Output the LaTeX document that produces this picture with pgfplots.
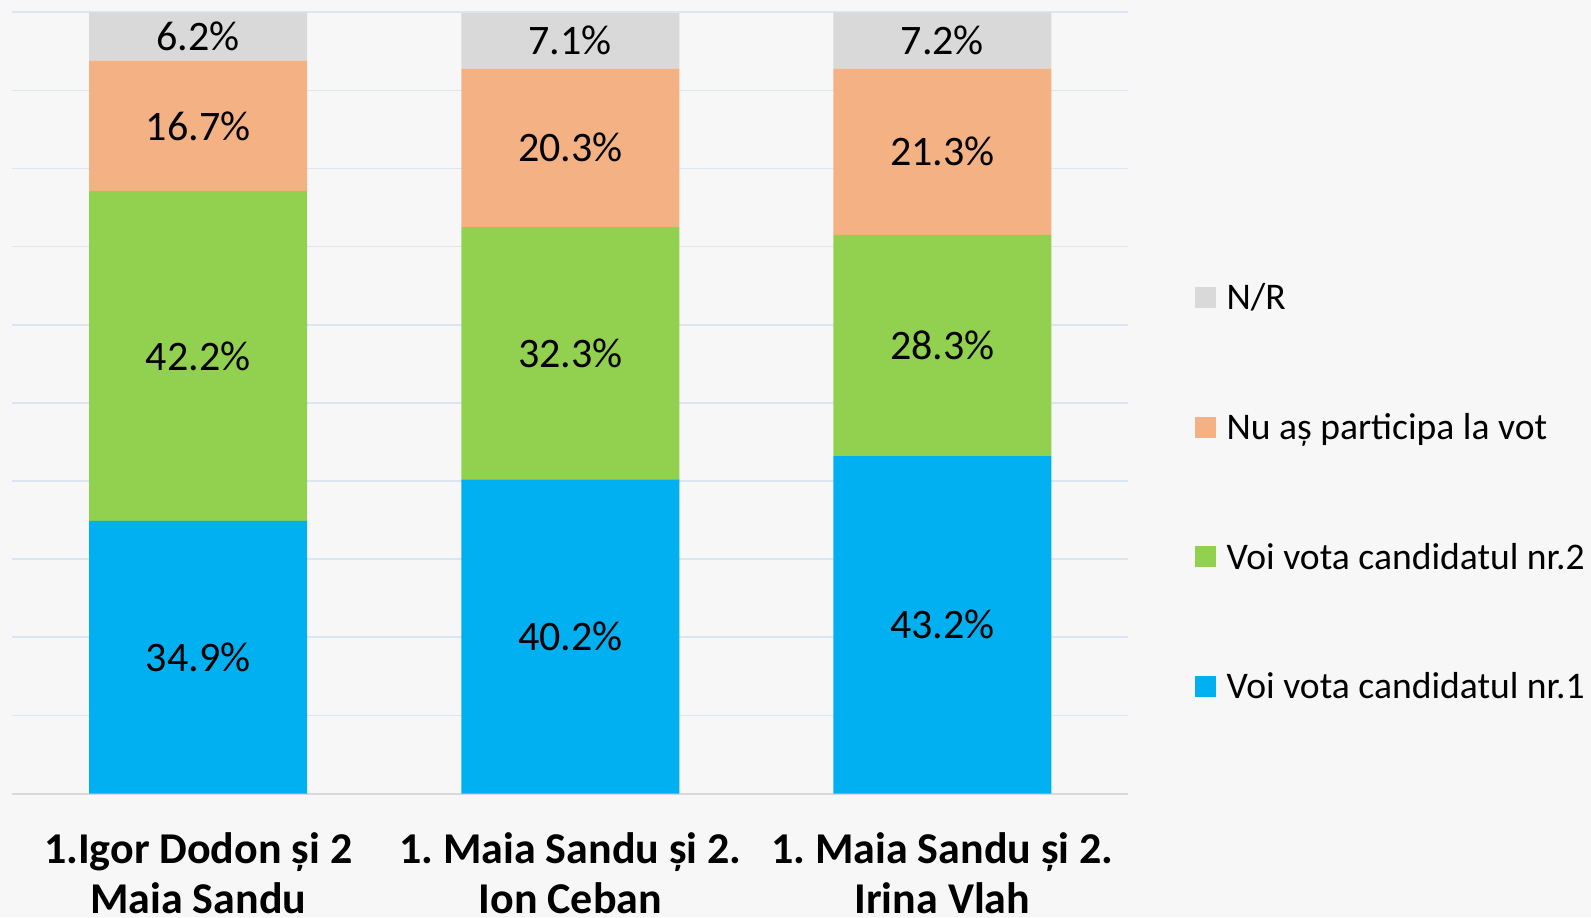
\documentclass[border=0pt]{standalone}
\usepackage{pgfplots}
\pgfplotsset{compat=1.18}
\usepackage{fontspec}
\setmainfont{Carlito}

\definecolor{nrgray}{HTML}{D9D9D9}
\definecolor{nuorange}{HTML}{F4B183}
\definecolor{c2green}{HTML}{92D050}
\definecolor{c1blue}{HTML}{00B0F0}
\definecolor{gridblue}{HTML}{DCE6F2}
\definecolor{bg}{HTML}{F7F7F7}

\begin{document}
\frenchspacing
\begin{tikzpicture}
\useasboundingbox (0,0) rectangle (795.5pt,458.5pt);
\clip (0,0) rectangle (795.5pt,458.5pt);
\fill[bg] (0,0) rectangle (795.5pt,458.5pt);
\begin{axis}[
  at={(6.1pt,61.75pt)}, anchor=south west,
  scale only axis, width=558.1pt, height=390.6pt,
  ybar stacked, bar width=0.586,
  xmin=-0.5, xmax=2.5, ymin=0, ymax=100,
  xtick={0,1,2},
  xticklabels={{1.Igor Dodon și 2\\Maia Sandu},{1. Maia Sandu și 2.\\Ion Ceban},{1. Maia Sandu și 2.\\Irina Vlah}},
  xticklabel style={font=\bfseries\fontsize{22}{25}\selectfont, align=center, anchor=base, inner sep=0pt, yshift=-59.8pt},
  ytick={10,20,...,100}, yticklabels={},
  extra y ticks={0}, extra y tick labels={},
  extra y tick style={grid=major, grid style={draw=nrgray, line width=1pt}},
  ymajorgrids, grid style={draw=gridblue, line width=0.8pt},
  axis line style={draw=none},
  tick style={draw=none},
  /pgf/number format/assume math mode=true,
  nodes near coords={\pgfmathprintnumber[fixed,fixed zerofill,precision=1]{\pgfplotspointmeta}\%},
  every node near coord/.append style={anchor=center, font=\fontsize{21}{25}\selectfont, text=black},
  legend style={at={(1.0597,0.6508)}, anchor=north west, draw=none, fill=none,
    inner sep=0pt, outer sep=0pt, row sep=52.4pt, column sep=5.3pt,
    font=\fontsize{18.8}{22}\selectfont,
    nodes={inner sep=0pt, text height=12.4pt, text depth=0pt}},
  reverse legend,
  legend cell align=left,
  legend image code/.code={\fill[#1,draw=none] (0pt,-5.25pt) rectangle (10.5pt,5.25pt);},
]
\addplot[fill=c1blue, draw=none] coordinates {(0,34.9) (1,40.2) (2,43.2)};
\addplot[fill=c2green, draw=none] coordinates {(0,42.2) (1,32.3) (2,28.3)};
\addplot[fill=nuorange, draw=none] coordinates {(0,16.7) (1,20.3) (2,21.3)};
\addplot[fill=nrgray, draw=none] coordinates {(0,6.2) (1,7.1) (2,7.2)};
\legend{Voi vota candidatul nr.1, Voi vota candidatul nr.2, Nu aș participa la vot, N/R}
\end{axis}
\end{tikzpicture}
\end{document}
